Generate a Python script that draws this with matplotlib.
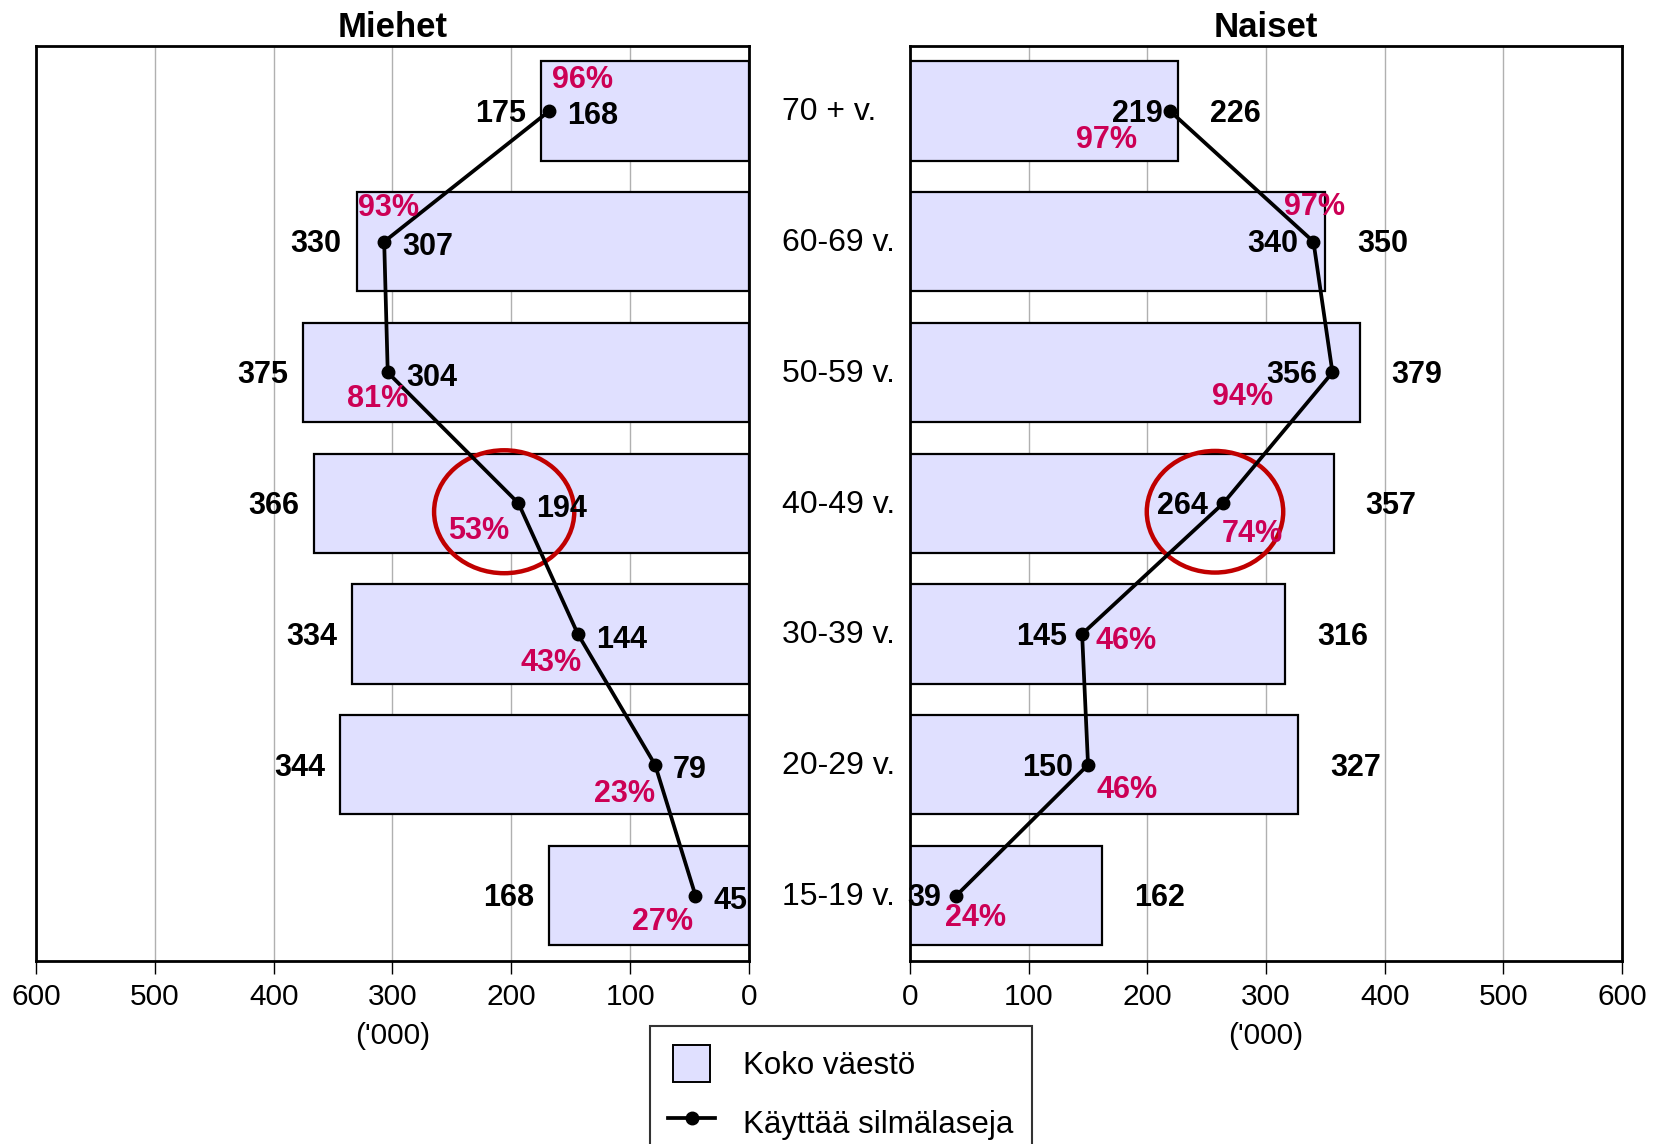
import numpy as np
import matplotlib.pyplot as plt
from matplotlib.patches import Ellipse, Patch, Rectangle
from matplotlib.lines import Line2D
from matplotlib.legend_handler import HandlerPatch

plt.rcParams['font.family'] = ['Liberation Sans', 'DejaVu Sans']

# age groups, bottom to top
ages = ['15-19 v.', '20-29 v.', '30-39 v.', '40-49 v.', '50-59 v.', '60-69 v.', '70 + v.']
# whole population ('000)
men_total = [168, 344, 334, 366, 375, 330, 175]
women_total = [162, 327, 316, 357, 379, 350, 226]
# uses glasses ('000)
men_glasses = [45, 79, 144, 194, 304, 307, 168]
women_glasses = [39, 150, 145, 264, 356, 340, 219]
# share using glasses (%)
men_pct = [27, 23, 43, 53, 81, 93, 96]
women_pct = [24, 46, 46, 74, 94, 97, 97]
xticks = [0, 100, 200, 300, 400, 500, 600]

# label offsets (points) for the percentages
men_pct_off = [(-24, -19), (-22, -21), (-19, -21), (-29, -20), (-7, -19), (3, 24), (24, 22)]
women_pct_off = [(14, -16), (28, -18), (32, -5), (21, -22), (-65, -18), (1, 25), (-46, -21)]
women_gl_off = [-11, -11, -11, -11, -11, -11, -5]

bar_color = '#e0e0ff'
pct_color = '#cc0055'
ring_color = '#c00000'
num_size = 22

fig = plt.figure(figsize=(16.61, 11.44), dpi=100)
axL = fig.add_axes([0.0217, 0.160, 0.4292, 0.8002])
axR = fig.add_axes([0.5479, 0.160, 0.4286, 0.8002])

y = np.arange(len(ages))

for ax, total, glasses, pct, pct_off, title in [
        (axL, men_total, men_glasses, men_pct, men_pct_off, 'Miehet'),
        (axR, women_total, women_glasses, women_pct, women_pct_off, 'Naiset')]:
    ax.set_axisbelow(True)
    ax.grid(axis='x', color='#b0b0b0', lw=1.0)
    ax.barh(y, total, height=0.76, color=bar_color, edgecolor='black', lw=1.6, zorder=2)
    ax.plot(glasses, y, color='black', lw=2.7, marker='o', ms=9, zorder=4)
    ax.set_xlim(0, 600)
    ax.set_ylim(-0.5, 6.5)
    ax.set_xticks(xticks)
    ax.set_yticks([])
    ax.tick_params(axis='x', length=9, width=1, labelsize=21.5, pad=7)
    for s in ax.spines.values():
        s.set_linewidth(2)
    ax.set_title(title, fontsize=25, fontweight='bold', pad=6)
    ax.annotate("('000)", (300, 0), xycoords=('data', 'axes fraction'), xytext=(0, -54),
                textcoords='offset points', ha='center', va='center', fontsize=21.5,
                annotation_clip=False)
    for i in range(len(ages)):
        ax.annotate(f'{pct[i]}%', (glasses[i], y[i]), xytext=pct_off[i],
                    textcoords='offset points', ha='center', va='center',
                    color=pct_color, fontsize=num_size, fontweight='bold', zorder=5)

axL.invert_xaxis()

for i in range(len(ages)):
    axL.annotate(str(men_total[i]), (men_total[i], y[i]), xytext=(-11, -2),
                 textcoords='offset points', ha='right', va='center',
                 fontsize=num_size, fontweight='bold')
    axL.annotate(str(men_glasses[i]), (men_glasses[i], y[i]), xytext=(13, -4),
                 textcoords='offset points', ha='left', va='center',
                 fontsize=num_size, fontweight='bold', zorder=5)
    axR.annotate(str(women_total[i]), (women_total[i], y[i]), xytext=(23, -2),
                 textcoords='offset points', ha='left', va='center',
                 fontsize=num_size, fontweight='bold')
    axR.annotate(str(women_glasses[i]), (women_glasses[i], y[i]), xytext=(women_gl_off[i], -2),
                 textcoords='offset points', ha='right', va='center',
                 fontsize=num_size, fontweight='bold', zorder=5)
    axR.annotate(ages[i], (0, y[i]), xytext=(-92, -1), textcoords='offset points',
                 ha='left', va='center', fontsize=23, annotation_clip=False)

# red rings around the 40-49 group
axL.add_patch(Ellipse((206, 2.935), 118, 0.94, fill=False, ec=ring_color, lw=3.2, zorder=3))
axR.add_patch(Ellipse((257, 2.935), 115, 0.93, fill=False, ec=ring_color, lw=3.2, zorder=3))


def square_patch(legend, orig_handle, xdescent, ydescent, width, height, fontsize):
    side = height
    return Rectangle((-xdescent + (width - side) / 2, -ydescent), side, side)


handles = [Patch(facecolor=bar_color, edgecolor='black', lw=1.4),
           Line2D([0], [0], color='black', lw=2.7, marker='o', ms=9)]
leg = fig.legend(handles, ['Koko väestö', 'Käyttää silmälaseja'], loc='upper center',
                 bbox_to_anchor=(0.5063, 0.1030), fontsize=22.5, frameon=True, fancybox=False,
                 edgecolor='black', handlelength=1.5, handleheight=1.45, labelspacing=0.7,
                 borderpad=0.6, handletextpad=0.9, borderaxespad=0,
                 handler_map={Patch: HandlerPatch(patch_func=square_patch)})
leg.get_frame().set_linewidth(1.5)

fig.savefig('out.png', dpi=100)
